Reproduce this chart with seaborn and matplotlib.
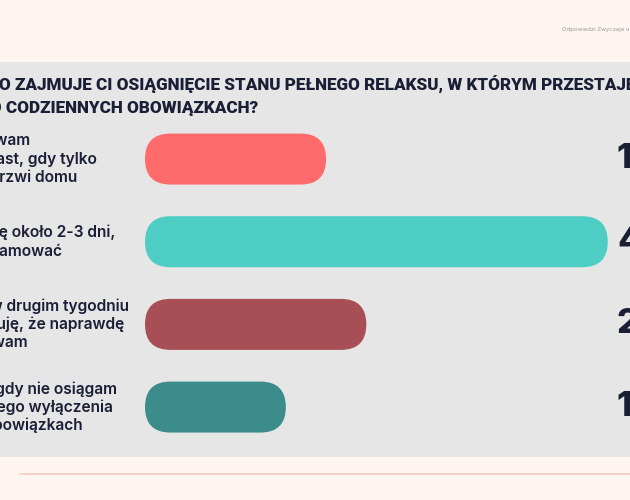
#!/usr/bin/env python3
"""
plot.py
-------
Horizontal rounded bar chart: time needed to fully relax on holiday.
Saves out.png (630x500 px).
"""

import matplotlib
matplotlib.use('Agg')
import matplotlib.pyplot as plt
from matplotlib.patches import FancyBboxPatch, Rectangle
from matplotlib.lines import Line2D
from matplotlib.font_manager import FontProperties
import matplotlib.transforms as mtransforms
import pandas as pd
import seaborn as sns

# ─────────────────────────────────────────────────────────────────────────────
#  DATA
# ─────────────────────────────────────────────────────────────────────────────
TITLE = ("JAK DŁUGO ZAJMUJE CI OSIĄGNIĘCIE STANU PEŁNEGO RELAKSU, W KTÓRYM PRZESTAJESZ\n"
         "MYŚLEĆ O CODZIENNYCH OBOWIĄZKACH?")
SOURCE = "Odpowiedzi Zwyczaje urlopowe Polaków"

CATEGORIES = [
    "Odpoczywam\nnatychmiast, gdy tylko\nzamknę drzwi domu",
    "Potrzebuję około 2-3 dni,\nżeby wyhamować",
    "Dopiero w drugim tygodniu\nurlopu czuję, że naprawdę\nodpoczywam",
    "Prawie nigdy nie osiągam\nkompletnego wyłączenia\nmyśli o obowiązkach",
]
VALUES = [18, 46, 22, 14]
VALUE_LABELS = ["18%", "46%", "22%", "14%"]
COLORS = ["#ff6b6b", "#4ecdc4", "#a84e55", "#3d8c8c"]

# ─────────────────────────────────────────────────────────────────────────────
#  STYLE
# ─────────────────────────────────────────────────────────────────────────────
sns.set_theme(style="white")
plt.rcParams['font.family'] = ['Inter', 'DejaVu Sans']

W, H = 630, 500
CREAM = "#fff5f0"
PANEL = "#e6e6e6"
INK = "#1b1f36"


def px(x, y):
    """figure pixel coords (origin top-left) -> figure fraction"""
    return x / W, 1 - y / H


fig = plt.figure(figsize=(W / 100, H / 100), dpi=100, facecolor=CREAM)
renderer = fig.canvas.get_renderer()


def text_width(s, **kw):
    w, _, _ = renderer.get_text_width_height_descent(s, FontProperties(**kw), ismath=False)
    return w


# grey panel + decorative rule
fig.patches.append(Rectangle(px(0, 457), 1, (457 - 62) / H, transform=fig.transFigure,
                             facecolor=PANEL, edgecolor='none', zorder=-2))
fig.lines.append(Line2D([20 / W, 1], [1 - 474 / H] * 2, transform=fig.transFigure,
                        color="#f4c9c0", lw=1.2, zorder=-1))

# bar axes: categories centred at y=159..407 px, bars start at x=145 px
ax = fig.add_axes([145 / W, 51.6 / H, 503 / W, 330.7 / H])
ax.patch.set_alpha(0)
df = pd.DataFrame({'cat': CATEGORIES, 'val': VALUES})
sns.barplot(data=df, y='cat', x='val', hue='cat', palette=COLORS, legend=False,
            orient='h', width=0.617, ax=ax)
ax.set_xlim(0, 50)
ax.set_ylim(3.5, -0.5)
ax.axis('off')

# replace square bars by pill shapes
p0 = ax.transData.transform((0, 0))
px_x = ax.transData.transform((1, 0))[0] - p0[0]
px_y = abs(ax.transData.transform((0, 1))[1] - p0[1])
for patch, color in zip(list(ax.patches), COLORS):
    x, y, w, h = patch.get_x(), patch.get_y(), patch.get_width(), patch.get_height()
    patch.remove()
    r_x = (h * px_y / 2) / px_x
    ax.add_patch(FancyBboxPatch((x, y), w, h,
                                boxstyle=f"round,pad=0,rounding_size={r_x}",
                                mutation_aspect=px_x / px_y,
                                facecolor=color, edgecolor='none'))

# category labels (left, partly outside the frame) and value labels (right)
lab_font = dict(family='Inter', size=11.2, weight='semibold')
lab_x = -4 - text_width("natychmi", **lab_font)
lab_tr = mtransforms.blended_transform_factory(fig.transFigure, ax.transData)
for i, (cat, lab) in enumerate(zip(CATEGORIES, VALUE_LABELS)):
    ax.text(lab_x / W, i, cat, transform=lab_tr, ha='left', va='center',
            fontsize=11.2, fontweight='semibold', color=INK, linespacing=1.22)
    ax.text(617 / W, i, lab, transform=lab_tr, ha='left', va='center',
            fontsize=25, fontweight='heavy', color=INK)

# title
title_font = dict(family='Roboto', size=12.3, weight='heavy')
tx, ty = px(-1 - text_width("JAK DŁUG", **title_font), 95)
fig.text(tx, ty, TITLE, ha='left', va='center', fontsize=12.3, fontweight='heavy',
         color=INK, linespacing=1.34, family=['Roboto', 'DejaVu Sans'])

# source note top right
sx, sy = px(562, 29)
fig.text(sx, sy, SOURCE, ha='left', va='center', fontsize=4.3, color="#9a9a9a")

fig.savefig('out.png', dpi=100, facecolor=CREAM)
